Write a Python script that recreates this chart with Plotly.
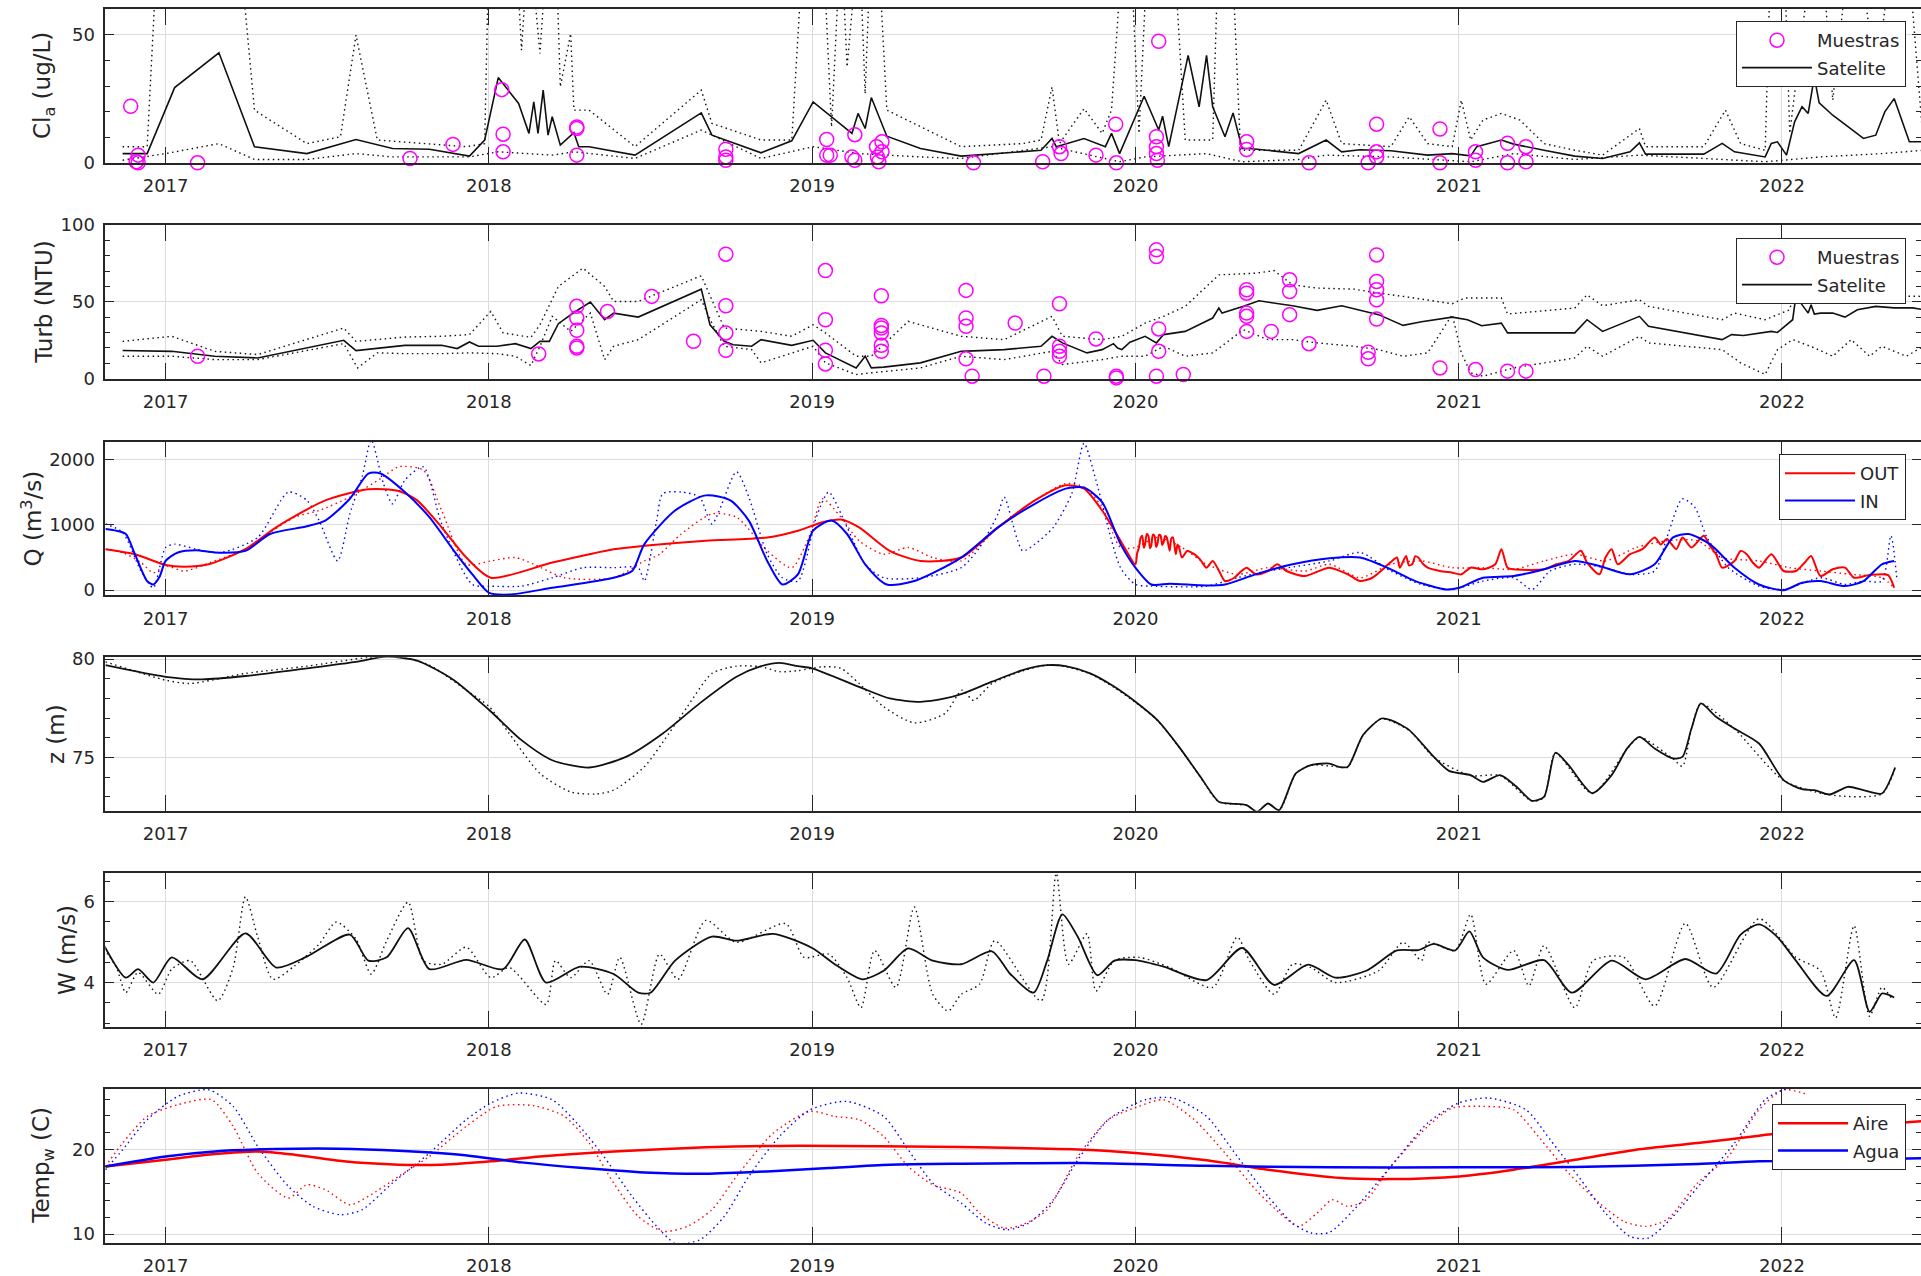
import plotly.graph_objects as go

FIG_W, FIG_H = 1921, 1276
FONT = "DejaVu Sans"
INK = "#262626"
GRID = "#dcdcdc"

YEARS = [2017, 2018, 2019, 2020, 2021, 2022]
YEAR_LABELS = ["2017", "2018", "2019", "2020", "2021", "2022"]
X_RANGE = [2016.8135, 2022.430]

# ---------------- Chlorophyll-a (ug/L) ----------------
CLA_SAT = [(2016.867, 3.6), (2016.943, 3.6), (2017.028, 29.4), (2017.165, 43.0), (2017.275, 6.3),
           (2017.437, 3.6), (2017.589, 9.1), (2017.702, 5.6), (2017.816, 5.3), (2017.940, 2.6),
           (2017.987, 8.9), (2018.029, 33.3), (2018.092, 23.2), (2018.124, 11.5), (2018.139, 23.8),
           (2018.152, 11.5), (2018.168, 28.4), (2018.183, 10.8), (2018.196, 18.0), (2018.221, 6.9),
           (2018.263, 11.8), (2018.278, 6.3), (2018.310, 6.3), (2018.452, 3.0), (2018.657, 19.5),
           (2018.690, 10.8), (2018.842, 3.9), (2018.937, 8.6), (2019.003, 23.8), (2019.123, 11.5),
           (2019.142, 19.3), (2019.164, 13.4), (2019.183, 25.5), (2019.231, 10.4), (2019.335, 5.6),
           (2019.461, 2.6), (2019.708, 4.9), (2019.742, 9.5), (2019.755, 6.3), (2019.841, 9.5),
           (2019.907, 6.3), (2019.926, 11.5), (2019.951, 3.6), (2020.027, 26.0), (2020.072, 12.8),
           (2020.084, 18.2), (2020.103, 6.3), (2020.163, 42.0), (2020.197, 21.9), (2020.220, 42.0),
           (2020.239, 21.9), (2020.277, 10.2), (2020.302, 19.5), (2020.330, 5.6), (2020.353, 5.6),
           (2020.505, 3.6), (2020.590, 8.9), (2020.638, 4.3), (2020.695, 5.1), (2020.790, 4.7),
           (2020.904, 3.0), (2020.980, 3.6), (2021.037, 2.7), (2021.056, 6.3), (2021.132, 8.9),
           (2021.170, 7.3), (2021.264, 4.9), (2021.359, 2.6), (2021.445, 1.7), (2021.530, 4.3),
           (2021.559, 7.8), (2021.578, 3.4), (2021.758, 3.4), (2021.815, 7.6), (2021.853, 4.3),
           (2021.948, 2.3), (2021.967, 7.6), (2021.986, 8.2), (2022.014, 3.0), (2022.039, 16.0),
           (2022.062, 21.9), (2022.081, 19.3), (2022.100, 33.6), (2022.115, 23.4), (2022.157, 18.6),
           (2022.252, 9.5), (2022.290, 10.8), (2022.318, 19.9), (2022.347, 25.1), (2022.394, 8.2),
           (2022.438, 8.2)]

CLA_HI = [(2016.867, 6.3), (2016.943, 6.3), (2016.977, 90), (2017.224, 90), (2017.275, 20.6),
          (2017.437, 7.5), (2017.541, 10.2), (2017.589, 49.9), (2017.655, 8.9), (2017.816, 7.5),
          (2017.930, 6.3), (2017.987, 7.5), (2018.001, 90), (2018.082, 90), (2018.101, 44.0),
          (2018.124, 90), (2018.158, 42.7), (2018.183, 90), (2018.206, 90), (2018.221, 29.7),
          (2018.253, 50.5), (2018.263, 20.6), (2018.310, 20.6), (2018.452, 6.3), (2018.657, 28.4),
          (2018.690, 15.4), (2018.842, 8.9), (2018.937, 8.9), (2018.975, 90), (2019.032, 90),
          (2019.060, 14.0), (2019.089, 90), (2019.108, 37.5), (2019.145, 90), (2019.164, 27.0),
          (2019.183, 90), (2019.202, 90), (2019.231, 20.6), (2019.335, 14.0), (2019.461, 6.3),
          (2019.651, 7.5), (2019.708, 8.9), (2019.742, 29.7), (2019.765, 7.5), (2019.841, 21.2),
          (2019.897, 11.5), (2019.926, 20.6), (2019.964, 90), (2019.983, 90), (2020.011, 11.5),
          (2020.040, 90), (2020.087, 90), (2020.116, 90), (2020.154, 8.9), (2020.239, 8.9),
          (2020.258, 90), (2020.296, 90), (2020.325, 4.9), (2020.505, 4.9), (2020.590, 24.5),
          (2020.638, 7.5), (2020.790, 6.3), (2020.847, 18.0), (2020.904, 7.5), (2020.980, 6.3),
          (2021.008, 24.5), (2021.037, 8.9), (2021.075, 16.7), (2021.132, 19.3), (2021.189, 16.7),
          (2021.264, 7.5), (2021.359, 4.9), (2021.445, 3.0), (2021.559, 13.4), (2021.578, 6.3),
          (2021.758, 6.3), (2021.825, 20.6), (2021.872, 7.5), (2021.948, 4.9), (2021.967, 90),
          (2022.005, 90), (2022.024, 11.5), (2022.100, 90), (2022.119, 90), (2022.157, 24.5),
          (2022.214, 90), (2022.233, 90), (2022.290, 31.0), (2022.347, 90), (2022.385, 90),
          (2022.438, 6.3)]

CLA_LO = [(2016.867, 1.0), (2017.000, 3.6), (2017.165, 7.5), (2017.275, 1.3), (2017.437, 1.3),
          (2017.589, 3.6), (2017.702, 2.3), (2017.940, 2.3), (2018.029, 4.3), (2018.196, 3.0),
          (2018.263, 4.3), (2018.452, 1.7), (2018.657, 12.8), (2018.842, 1.7), (2019.003, 6.3),
          (2019.145, 3.6), (2019.335, 2.3), (2019.461, 1.7), (2019.742, 6.3), (2019.841, 3.6),
          (2019.951, 0.4), (2020.030, 2.3), (2020.220, 3.6), (2020.330, 0.4), (2020.505, 1.3),
          (2020.590, 3.0), (2020.790, 2.3), (2021.037, 0.4), (2021.170, 3.6), (2021.359, 1.3),
          (2021.559, 3.0), (2021.758, 1.7), (2021.948, 0.4), (2022.119, 2.3), (2022.309, 3.6),
          (2022.438, 4.9)]

CLA_OBS = [(2016.892, 22.1), (2016.909, 0.4), (2016.915, 3.0), (2016.915, 0.0), (2017.099, 0.0),
           (2017.756, 1.7), (2017.889, 7.2), (2018.040, 28.6), (2018.044, 11.2), (2018.044, 4.3),
           (2018.272, 14.0), (2018.272, 13.4), (2018.272, 3.0), (2018.733, 5.3), (2018.733, 2.3),
           (2018.733, 1.0), (2019.045, 9.1), (2019.045, 3.0), (2019.056, 3.0), (2019.123, 2.3),
           (2019.132, 11.0), (2019.132, 1.0), (2019.199, 6.3), (2019.202, 2.3), (2019.206, 0.4),
           (2019.216, 8.2), (2019.216, 4.3), (2019.499, 0.0), (2019.713, 0.4), (2019.765, 6.3),
           (2019.770, 3.6), (2019.878, 3.0), (2019.939, 15.1), (2019.941, 0.0), (2020.065, 10.2),
           (2020.065, 6.3), (2020.065, 3.6), (2020.068, 1.0), (2020.072, 47.5), (2020.344, 8.2),
           (2020.344, 5.2), (2020.537, 0.0), (2020.720, 0.0), (2020.746, 15.1), (2020.746, 4.3),
           (2020.746, 2.3), (2020.942, 13.2), (2020.942, 0.0), (2021.052, 1.0), (2021.052, 4.3),
           (2021.151, 7.6), (2021.151, 0.0), (2021.208, 6.3), (2021.208, 0.4)]

# ---------------- Turbidity (NTU) ----------------
TURB_SAT = [(2016.867, 18.2), (2017.019, 17.7), (2017.152, 14.5), (2017.285, 13.4), (2017.551, 24.9),
            (2017.589, 18.2), (2017.740, 21.6), (2017.854, 21.6), (2017.902, 19.5), (2017.940, 23.8),
            (2017.968, 21.0), (2018.025, 21.0), (2018.082, 22.7), (2018.130, 19.5), (2018.158, 24.2),
            (2018.187, 24.2), (2018.215, 35.7), (2018.263, 43.0), (2018.314, 49.8), (2018.358, 38.3),
            (2018.386, 42.6), (2018.462, 40.0), (2018.657, 58.2), (2018.684, 35.0), (2018.728, 24.2),
            (2018.756, 22.0), (2018.813, 21.0), (2018.842, 25.3), (2018.937, 21.6), (2019.003, 24.9),
            (2019.041, 16.7), (2019.136, 6.9), (2019.164, 14.5), (2019.183, 6.9), (2019.221, 7.4),
            (2019.335, 10.2), (2019.461, 17.7), (2019.594, 18.8), (2019.708, 21.0), (2019.742, 27.5),
            (2019.774, 23.2), (2019.850, 16.7), (2019.897, 18.8), (2019.932, 22.7), (2019.945, 19.9),
            (2019.958, 18.8), (2019.983, 23.6), (2020.030, 27.5), (2020.065, 23.2), (2020.087, 28.6),
            (2020.154, 30.7), (2020.239, 39.4), (2020.258, 45.9), (2020.268, 42.6), (2020.334, 47.0),
            (2020.382, 50.6), (2020.486, 47.4), (2020.562, 44.4), (2020.638, 47.4), (2020.752, 41.6),
            (2020.828, 34.6), (2020.885, 37.0), (2020.980, 40.0), (2021.027, 38.3), (2021.071, 34.4),
            (2021.132, 36.1), (2021.151, 29.7), (2021.359, 29.7), (2021.397, 38.3), (2021.445, 30.7),
            (2021.559, 40.5), (2021.587, 34.0), (2021.815, 25.3), (2021.844, 28.6), (2021.881, 28.0),
            (2021.967, 30.7), (2021.986, 30.0), (2022.033, 38.3), (2022.043, 53.5), (2022.081, 42.6),
            (2022.090, 48.0), (2022.100, 42.0), (2022.119, 42.6), (2022.157, 42.6), (2022.195, 40.0),
            (2022.233, 44.8), (2022.290, 47.0), (2022.347, 46.0), (2022.404, 46.0), (2022.438, 44.8)]

TURB_HI = [(2016.867, 24.2), (2017.019, 27.5), (2017.152, 17.7), (2017.285, 15.6), (2017.551, 32.9),
           (2017.589, 24.2), (2017.740, 27.0), (2017.854, 27.5), (2017.940, 28.6), (2018.006, 43.7),
           (2018.044, 29.7), (2018.130, 26.8), (2018.158, 35.0), (2018.215, 60.0), (2018.291, 71.9),
           (2018.358, 60.0), (2018.386, 50.2), (2018.462, 50.2), (2018.657, 66.9), (2018.690, 51.3),
           (2018.728, 32.9), (2018.842, 30.7), (2018.937, 27.5), (2019.003, 35.0), (2019.041, 29.7),
           (2019.136, 14.5), (2019.183, 14.5), (2019.297, 37.2), (2019.461, 27.5), (2019.594, 25.3),
           (2019.742, 40.5), (2019.774, 27.5), (2019.897, 25.3), (2019.958, 27.5), (2020.030, 36.1),
           (2020.087, 40.5), (2020.154, 47.0), (2020.220, 60.0), (2020.258, 67.5), (2020.372, 68.6),
           (2020.429, 70.3), (2020.486, 61.0), (2020.562, 58.9), (2020.676, 58.2), (2020.752, 55.6),
           (2020.828, 53.5), (2020.904, 51.3), (2020.980, 48.7), (2021.018, 52.4), (2021.132, 52.4),
           (2021.151, 42.0), (2021.359, 45.9), (2021.397, 54.5), (2021.445, 47.4), (2021.559, 51.3),
           (2021.587, 47.0), (2021.815, 38.3), (2021.853, 42.6), (2021.948, 38.3), (2022.024, 44.8),
           (2022.043, 62.0), (2022.100, 55.0), (2022.233, 54.0), (2022.438, 53.5)]

TURB_LO = [(2016.867, 14.5), (2017.019, 14.5), (2017.152, 12.3), (2017.285, 12.3), (2017.551, 22.7),
           (2017.594, 6.9), (2017.655, 16.7), (2017.740, 16.2), (2017.854, 16.2), (2017.940, 16.7),
           (2018.025, 16.2), (2018.082, 14.5), (2018.130, 8.4), (2018.158, 21.0), (2018.196, 40.5),
           (2018.253, 30.7), (2018.314, 42.6), (2018.358, 12.3), (2018.386, 21.0), (2018.462, 25.3),
           (2018.657, 51.3), (2018.690, 36.1), (2018.728, 21.0), (2018.813, 18.8), (2018.842, 10.2),
           (2018.937, 16.7), (2019.003, 21.0), (2019.041, 10.2), (2019.136, 2.6), (2019.183, 3.7),
           (2019.335, 6.9), (2019.461, 14.5), (2019.594, 12.3), (2019.742, 17.7), (2019.774, 9.1),
           (2019.897, 12.3), (2019.958, 14.5), (2020.030, 14.5), (2020.087, 21.0), (2020.154, 14.5),
           (2020.239, 16.7), (2020.334, 31.8), (2020.410, 25.3), (2020.486, 25.3), (2020.562, 23.2),
           (2020.676, 21.0), (2020.752, 18.8), (2020.828, 14.5), (2020.904, 16.7), (2020.980, 41.6),
           (2021.008, 16.7), (2021.037, 3.7), (2021.075, 1.5), (2021.170, 6.9), (2021.264, 10.2),
           (2021.359, 13.4), (2021.397, 21.0), (2021.445, 14.5), (2021.559, 27.5), (2021.587, 23.2),
           (2021.815, 18.8), (2021.872, 10.2), (2021.948, 2.6), (2021.986, 18.8), (2022.033, 25.3),
           (2022.100, 20.0), (2022.157, 14.5), (2022.214, 25.3), (2022.271, 14.5), (2022.309, 21.0),
           (2022.385, 14.5), (2022.438, 21.0)]

TURB_OBS = [(2017.099, 14.5), (2018.154, 16.0), (2018.272, 47.0), (2018.272, 39.4), (2018.272, 31.4),
            (2018.272, 21.0), (2018.272, 19.9), (2018.367, 43.7), (2018.504, 53.5), (2018.633, 24.2),
            (2018.733, 81.0), (2018.733, 47.4), (2018.733, 29.7), (2018.733, 18.4), (2019.041, 70.3),
            (2019.041, 38.3), (2019.041, 18.4), (2019.041, 9.5), (2019.214, 53.9), (2019.214, 34.5),
            (2019.214, 32.9), (2019.214, 29.7), (2019.214, 21.6), (2019.214, 17.7), (2019.476, 57.4),
            (2019.476, 39.4), (2019.476, 34.0), (2019.476, 12.8), (2019.495, 1.5), (2019.628, 36.1),
            (2019.717, 1.5), (2019.765, 48.7), (2019.765, 21.0), (2019.765, 17.7), (2019.765, 14.5),
            (2019.878, 25.8), (2019.941, 0.4), (2019.941, 1.5), (2020.065, 83.8), (2020.065, 79.4),
            (2020.072, 32.3), (2020.072, 17.7), (2020.065, 1.5), (2020.148, 2.6), (2020.344, 57.8),
            (2020.344, 55.6), (2020.344, 42.6), (2020.344, 40.5), (2020.344, 30.7), (2020.420, 30.7),
            (2020.477, 64.3), (2020.477, 56.7), (2020.477, 41.6), (2020.537, 22.7), (2020.720, 17.1),
            (2020.720, 12.8), (2020.746, 80.5), (2020.746, 63.2), (2020.746, 57.8), (2020.746, 51.3),
            (2020.746, 38.7), (2020.942, 6.9), (2021.052, 5.8), (2021.151, 4.8), (2021.208, 4.8)]

# ---------------- Discharge Q (m3/s) ----------------
Q_OUT = [(2016.814, 627), (2016.905, 550), (2017.000, 386), (2017.057, 360), (2017.133, 396),
         (2017.247, 627), (2017.342, 961), (2017.494, 1373), (2017.627, 1542), (2017.721, 1517),
         (2017.778, 1373), (2017.854, 961), (2017.930, 499), (2018.006, 190), (2018.196, 422),
         (2018.386, 627), (2018.481, 679), (2018.671, 756), (2018.861, 807), (2018.956, 910),
         (2019.032, 1039), (2019.089, 1080), (2019.145, 961), (2019.240, 602), (2019.335, 447),
         (2019.461, 499), (2019.575, 961), (2019.689, 1373), (2019.784, 1604), (2019.841, 1553),
         (2019.897, 1219), (2019.954, 756), (2020.000, 396), (2020.005, 560), (2020.011, 653),
         (2020.016, 800), (2020.021, 833), (2020.026, 650), (2020.030, 704), (2020.035, 860),
         (2020.040, 833), (2020.045, 640), (2020.049, 679), (2020.054, 850), (2020.059, 833),
         (2020.064, 660), (2020.068, 704), (2020.073, 845), (2020.078, 833), (2020.083, 690),
         (2020.087, 730), (2020.092, 830), (2020.097, 807), (2020.106, 602), (2020.111, 790),
         (2020.116, 807), (2020.125, 550), (2020.130, 700), (2020.135, 653), (2020.144, 499),
         (2020.160, 600), (2020.182, 550), (2020.200, 470), (2020.220, 344), (2020.239, 447),
         (2020.258, 300), (2020.277, 139), (2020.306, 190), (2020.325, 280), (2020.344, 344),
         (2020.372, 242), (2020.410, 293), (2020.439, 396), (2020.467, 293), (2020.524, 216),
         (2020.600, 344), (2020.657, 242), (2020.695, 139), (2020.733, 190), (2020.771, 344),
         (2020.790, 430), (2020.809, 499), (2020.818, 344), (2020.837, 524), (2020.846, 380),
         (2020.856, 396), (2020.866, 520), (2020.875, 499), (2020.890, 400), (2020.904, 344),
         (2020.942, 293), (2020.980, 267), (2021.008, 242), (2021.037, 344), (2021.075, 319),
         (2021.113, 396), (2021.132, 627), (2021.151, 344), (2021.170, 319), (2021.264, 319),
         (2021.302, 396), (2021.340, 447), (2021.378, 602), (2021.397, 422), (2021.435, 242),
         (2021.454, 499), (2021.473, 627), (2021.492, 396), (2021.530, 550), (2021.568, 627),
         (2021.606, 807), (2021.625, 700), (2021.644, 781), (2021.673, 627), (2021.692, 807),
         (2021.720, 653), (2021.758, 833), (2021.777, 679), (2021.796, 550), (2021.815, 344),
         (2021.853, 447), (2021.872, 600), (2021.891, 550), (2021.910, 420), (2021.929, 344),
         (2021.967, 550), (2022.005, 293), (2022.043, 293), (2022.070, 420), (2022.090, 524),
         (2022.119, 216), (2022.157, 319), (2022.195, 344), (2022.223, 190), (2022.271, 231),
         (2022.328, 231), (2022.347, 36)]

Q_IN = [(2016.814, 936), (2016.848, 910), (2016.877, 860), (2016.905, 550), (2016.943, 139),
        (2016.962, 87), (2016.981, 200), (2017.000, 447), (2017.038, 576), (2017.095, 612),
        (2017.152, 576), (2017.247, 602), (2017.323, 859), (2017.437, 977), (2017.494, 1064),
        (2017.570, 1398), (2017.627, 1784), (2017.665, 1784), (2017.740, 1501), (2017.816, 1116),
        (2017.892, 602), (2017.949, 242), (2018.001, -41), (2018.063, -67), (2018.196, 36),
        (2018.386, 190), (2018.443, 293), (2018.481, 704), (2018.576, 1219), (2018.671, 1450),
        (2018.747, 1373), (2018.804, 1064), (2018.861, 447), (2018.908, 87), (2018.956, 242),
        (2019.003, 910), (2019.060, 1064), (2019.108, 859), (2019.164, 396), (2019.231, 87),
        (2019.316, 139), (2019.461, 499), (2019.575, 961), (2019.689, 1321), (2019.784, 1553),
        (2019.841, 1568), (2019.897, 1347), (2019.954, 704), (2020.000, 344), (2020.049, 87),
        (2020.106, 98), (2020.220, 72), (2020.277, 87), (2020.372, 242), (2020.486, 396),
        (2020.600, 488), (2020.695, 499), (2020.790, 319), (2020.866, 139), (2020.961, 10),
        (2021.002, 36), (2021.075, 190), (2021.170, 216), (2021.264, 319), (2021.359, 447),
        (2021.435, 370), (2021.530, 242), (2021.606, 396), (2021.663, 807), (2021.711, 859),
        (2021.777, 704), (2021.853, 344), (2021.929, 87), (2022.005, 0), (2022.062, 113),
        (2022.119, 139), (2022.195, 62), (2022.252, 139), (2022.309, 396), (2022.347, 447)]

Q_OUT_RAW = [(2016.814, 627), (2016.867, 576), (2016.924, 422), (2016.962, 267), (2017.000, 370),
             (2017.057, 293), (2017.152, 447), (2017.247, 627), (2017.323, 884), (2017.399, 1116),
             (2017.475, 1219), (2017.570, 1424), (2017.665, 1707), (2017.721, 1887), (2017.797, 1835),
             (2017.854, 1219), (2017.930, 396), (2018.006, 447), (2018.082, 499), (2018.139, 396),
             (2018.234, 190), (2018.386, 190), (2018.481, 447), (2018.528, 550), (2018.595, 859),
             (2018.690, 1167), (2018.766, 1116), (2018.861, 602), (2018.937, 344), (2018.994, 859),
             (2019.032, 1398), (2019.089, 1116), (2019.145, 756), (2019.221, 550), (2019.297, 653),
             (2019.373, 499), (2019.461, 447), (2019.575, 961), (2019.689, 1373), (2019.784, 1630),
             (2019.841, 1578), (2019.897, 1270), (2019.954, 653), (2020.000, 653), (2020.068, 807),
             (2020.144, 653), (2020.220, 396), (2020.315, 242), (2020.410, 344), (2020.524, 293),
             (2020.600, 396), (2020.695, 190), (2020.790, 396), (2020.885, 447), (2020.980, 344),
             (2021.075, 344), (2021.170, 319), (2021.264, 447), (2021.359, 550), (2021.454, 447),
             (2021.549, 653), (2021.644, 756), (2021.739, 756), (2021.815, 499), (2021.929, 447),
             (2022.024, 344), (2022.119, 293), (2022.214, 242), (2022.309, 190), (2022.347, 36)]

Q_IN_RAW = [(2016.814, 1013), (2016.867, 884), (2016.924, 293), (2016.962, 36), (2017.000, 653),
            (2017.028, 704), (2017.095, 627), (2017.171, 576), (2017.285, 807), (2017.380, 1501),
            (2017.437, 1373), (2017.475, 1064), (2017.532, 447), (2017.570, 1167), (2017.608, 1733),
            (2017.636, 2298), (2017.674, 1630), (2017.702, 1321), (2017.740, 1681), (2017.797, 1887),
            (2017.854, 1013), (2017.949, 87), (2018.006, 62), (2018.101, 62), (2018.196, 190),
            (2018.291, 344), (2018.386, 344), (2018.462, 344), (2018.481, 139), (2018.519, 1064),
            (2018.538, 1476), (2018.595, 1501), (2018.652, 1424), (2018.690, 1013), (2018.766, 1810),
            (2018.804, 1424), (2018.861, 550), (2018.908, 190), (2018.956, 139), (2019.013, 1116),
            (2019.051, 1501), (2019.108, 961), (2019.164, 396), (2019.221, 190), (2019.335, 190),
            (2019.461, 344), (2019.518, 653), (2019.575, 1167), (2019.594, 1424), (2019.651, 602),
            (2019.689, 704), (2019.746, 961), (2019.803, 1476), (2019.841, 2247), (2019.878, 1681),
            (2019.954, 344), (2020.000, 87), (2020.049, 62), (2020.220, 62), (2020.315, 190),
            (2020.410, 293), (2020.600, 447), (2020.695, 576), (2020.790, 293), (2020.885, 87),
            (2020.980, 10), (2021.075, 139), (2021.170, 190), (2021.227, 10), (2021.283, 293),
            (2021.359, 396), (2021.454, 344), (2021.530, 242), (2021.606, 293), (2021.644, 807),
            (2021.692, 1398), (2021.730, 1270), (2021.768, 807), (2021.834, 344), (2021.929, 62),
            (2022.005, 10), (2022.119, 190), (2022.195, 87), (2022.252, 139), (2022.309, 139),
            (2022.337, 833), (2022.356, 139)]

# ---------------- Water level z (m) ----------------
Z_SIM = [(2016.814, 79.69), (2017.000, 79.10), (2017.114, 78.97), (2017.247, 79.14), (2017.437, 79.53),
         (2017.589, 79.86), (2017.684, 80.12), (2017.778, 79.92), (2017.892, 78.93), (2018.001, 77.41),
         (2018.101, 75.88), (2018.196, 74.86), (2018.310, 74.49), (2018.424, 75.03), (2018.538, 76.22),
         (2018.652, 77.75), (2018.766, 79.10), (2018.842, 79.64), (2018.899, 79.81), (2018.956, 79.64),
         (2019.000, 79.53), (2019.145, 78.59), (2019.240, 78.00), (2019.335, 77.83), (2019.411, 78.00),
         (2019.461, 78.22), (2019.556, 78.85), (2019.651, 79.44), (2019.727, 79.69), (2019.784, 79.64),
         (2019.860, 79.27), (2019.935, 78.59), (2020.000, 77.83), (2020.068, 76.90), (2020.135, 75.54),
         (2020.201, 74.02), (2020.258, 72.75), (2020.296, 72.66), (2020.344, 72.58), (2020.376, 72.24),
         (2020.410, 72.66), (2020.444, 72.32), (2020.496, 74.19), (2020.543, 74.61), (2020.600, 74.69),
         (2020.628, 74.53), (2020.657, 74.53), (2020.704, 76.14), (2020.761, 76.98), (2020.790, 76.90),
         (2020.847, 76.39), (2020.923, 75.03), (2020.970, 74.32), (2021.037, 74.10), (2021.075, 73.76),
         (2021.128, 74.10), (2021.179, 73.51), (2021.227, 72.80), (2021.264, 73.00), (2021.299, 75.24),
         (2021.340, 74.61), (2021.413, 73.19), (2021.473, 74.10), (2021.521, 75.46), (2021.559, 76.05),
         (2021.606, 75.46), (2021.663, 74.95), (2021.692, 75.03), (2021.720, 76.47), (2021.749, 77.75),
         (2021.796, 77.07), (2021.853, 76.47), (2021.929, 75.71), (2022.005, 73.85), (2022.062, 73.39),
         (2022.100, 73.34), (2022.147, 73.12), (2022.204, 73.51), (2022.252, 73.34), (2022.309, 73.17),
         (2022.350, 74.49)]

Z_OBS = [(2016.814, 79.86), (2017.000, 78.93), (2017.076, 78.76), (2017.247, 79.27), (2017.437, 79.64),
         (2017.627, 80.08), (2017.721, 80.12), (2017.816, 79.69), (2017.930, 78.42), (2018.001, 77.58),
         (2018.063, 76.22), (2018.158, 74.19), (2018.253, 73.25), (2018.329, 73.14), (2018.386, 73.34),
         (2018.481, 74.53), (2018.557, 76.22), (2018.614, 77.58), (2018.690, 79.27), (2018.766, 79.64),
         (2018.842, 79.61), (2018.899, 79.36), (2018.956, 79.41), (2019.032, 79.61), (2019.089, 79.53),
         (2019.145, 78.76), (2019.221, 77.58), (2019.316, 76.76), (2019.411, 77.24), (2019.464, 78.42),
         (2019.499, 77.90), (2019.556, 78.75), (2019.651, 79.40), (2019.727, 79.70), (2019.784, 79.62),
         (2019.860, 79.25), (2019.935, 78.55), (2020.000, 77.80), (2020.068, 76.88), (2020.135, 75.52),
         (2020.201, 74.00), (2020.258, 72.74), (2020.344, 72.56), (2020.376, 72.24), (2020.444, 72.30),
         (2020.496, 74.17), (2020.543, 74.60), (2020.628, 74.52), (2020.657, 74.50), (2020.704, 76.12),
         (2020.761, 76.96), (2020.847, 76.37), (2020.923, 75.01), (2021.037, 74.08), (2021.128, 74.08),
         (2021.227, 72.78), (2021.264, 72.98), (2021.299, 75.22), (2021.413, 73.17), (2021.521, 75.44),
         (2021.559, 76.03), (2021.663, 74.93), (2021.692, 74.55), (2021.720, 76.45), (2021.749, 77.73),
         (2021.853, 76.45), (2022.005, 73.83), (2022.147, 73.10), (2022.309, 73.15), (2022.350, 74.47)]

# ---------------- Wind speed W (m/s) ----------------
W_SIM = [(2016.810, 4.91), (2016.877, 4.12), (2016.915, 4.33), (2016.962, 4.00), (2017.019, 4.62),
         (2017.114, 4.08), (2017.247, 5.21), (2017.342, 4.37), (2017.437, 4.64), (2017.570, 5.18),
         (2017.627, 4.54), (2017.684, 4.62), (2017.750, 5.34), (2017.816, 4.33), (2017.930, 4.56),
         (2018.044, 4.33), (2018.111, 5.06), (2018.177, 4.00), (2018.282, 4.39), (2018.386, 4.21),
         (2018.462, 3.75), (2018.500, 3.75), (2018.576, 4.54), (2018.690, 5.13), (2018.766, 5.03),
         (2018.880, 5.20), (2019.000, 4.85), (2019.070, 4.45), (2019.155, 4.08), (2019.221, 4.29),
         (2019.297, 4.84), (2019.373, 4.54), (2019.461, 4.45), (2019.556, 4.77), (2019.613, 4.21),
         (2019.685, 3.75), (2019.727, 4.54), (2019.774, 5.68), (2019.822, 5.12), (2019.882, 4.18),
         (2019.935, 4.54), (2020.000, 4.55), (2020.087, 4.39), (2020.220, 4.06), (2020.330, 4.85),
         (2020.429, 3.94), (2020.534, 4.44), (2020.619, 4.12), (2020.714, 4.29), (2020.809, 4.79),
         (2020.875, 4.80), (2020.923, 4.95), (2020.989, 4.79), (2021.033, 5.26), (2021.075, 4.62),
         (2021.151, 4.31), (2021.264, 4.55), (2021.350, 3.75), (2021.473, 4.54), (2021.578, 4.08),
         (2021.701, 4.58), (2021.796, 4.22), (2021.872, 5.18), (2021.929, 5.43), (2021.986, 5.12),
         (2022.043, 4.54), (2022.138, 3.67), (2022.223, 4.55), (2022.271, 3.28), (2022.309, 3.73),
         (2022.328, 3.70), (2022.347, 3.63)]

W_OBS = [(2016.810, 4.83), (2016.848, 4.37), (2016.877, 3.75), (2016.915, 4.25), (2016.977, 3.71),
         (2017.019, 4.33), (2017.076, 4.54), (2017.161, 3.55), (2017.209, 4.37), (2017.247, 6.11),
         (2017.285, 5.12), (2017.332, 4.08), (2017.399, 4.41), (2017.475, 4.95), (2017.528, 5.49),
         (2017.589, 5.07), (2017.636, 4.21), (2017.684, 5.03), (2017.750, 5.98), (2017.797, 4.54),
         (2017.854, 4.45), (2017.930, 4.87), (2018.006, 4.12), (2018.063, 4.37), (2018.177, 3.46),
         (2018.206, 4.54), (2018.253, 4.12), (2018.310, 4.54), (2018.367, 3.71), (2018.405, 4.62),
         (2018.471, 2.97), (2018.528, 4.70), (2018.585, 4.08), (2018.671, 5.53), (2018.766, 4.99),
         (2018.918, 5.45), (2018.975, 4.62), (2019.051, 4.70), (2019.108, 4.12), (2019.151, 3.38),
         (2019.193, 4.79), (2019.259, 3.88), (2019.316, 5.86), (2019.373, 3.71), (2019.421, 3.30),
         (2019.461, 3.71), (2019.518, 3.96), (2019.565, 5.03), (2019.708, 3.55), (2019.755, 6.69),
         (2019.793, 4.45), (2019.850, 5.20), (2019.878, 3.79), (2019.935, 4.54), (2020.011, 4.62),
         (2020.106, 4.37), (2020.239, 3.88), (2020.315, 5.12), (2020.353, 4.54), (2020.429, 3.71),
         (2020.486, 4.45), (2020.543, 4.37), (2020.619, 4.00), (2020.752, 4.29), (2020.828, 4.99),
         (2020.885, 4.54), (2020.904, 4.99), (2020.989, 4.79), (2021.037, 5.68), (2021.084, 3.96),
         (2021.170, 4.79), (2021.217, 3.92), (2021.264, 4.91), (2021.359, 3.38), (2021.416, 4.54),
         (2021.511, 4.62), (2021.606, 3.42), (2021.701, 5.46), (2021.787, 3.88), (2021.929, 5.57),
         (2022.043, 4.62), (2022.119, 4.29), (2022.166, 3.13), (2022.223, 5.40), (2022.271, 3.17),
         (2022.309, 3.88), (2022.337, 3.63)]

# ---------------- Temperature (C) ----------------
T_AIRE = [(2016.814, 18.02), (2017.000, 18.81), (2017.152, 19.49), (2017.285, 19.80), (2017.399, 19.41),
          (2017.551, 18.62), (2017.721, 18.22), (2017.854, 18.22), (2018.006, 18.62), (2018.158, 19.21),
          (2018.386, 19.80), (2018.671, 20.28), (2018.956, 20.47), (2019.461, 20.32), (2019.841, 20.00),
          (2020.000, 19.60), (2020.220, 18.74), (2020.410, 17.63), (2020.638, 16.64), (2020.790, 16.52),
          (2021.002, 16.84), (2021.170, 17.63), (2021.359, 18.81), (2021.549, 20.00), (2021.739, 20.79),
          (2021.929, 21.66), (2022.100, 22.40), (2022.438, 23.40)]

T_AGUA = [(2016.814, 18.02), (2017.000, 19.21), (2017.152, 19.80), (2017.342, 20.08), (2017.532, 20.12),
          (2017.721, 19.88), (2017.911, 19.41), (2018.101, 18.50), (2018.291, 17.83), (2018.481, 17.31),
          (2018.671, 17.15), (2018.861, 17.43), (2019.051, 17.83), (2019.240, 18.22), (2019.461, 18.34),
          (2019.841, 18.42), (2020.220, 18.10), (2020.600, 17.91), (2021.002, 17.91), (2021.359, 17.94),
          (2021.739, 18.30), (2021.929, 18.62), (2022.438, 19.00)]

T_AIRE_RAW = [(2016.814, 18.02), (2016.867, 20.79), (2016.943, 23.95), (2017.038, 25.34), (2017.142, 25.93),
              (2017.209, 22.77), (2017.285, 17.23), (2017.380, 14.27), (2017.437, 15.85), (2017.494, 15.26),
              (2017.570, 13.48), (2017.627, 14.47), (2017.721, 16.84), (2017.816, 19.21), (2017.930, 22.77),
              (2018.025, 25.14), (2018.139, 25.22), (2018.234, 23.95), (2018.310, 20.79), (2018.386, 16.05),
              (2018.462, 12.09), (2018.538, 10.32), (2018.614, 10.91), (2018.690, 12.89), (2018.766, 16.84),
              (2018.880, 21.98), (2018.994, 24.55), (2019.070, 23.95), (2019.145, 23.56), (2019.221, 21.58),
              (2019.297, 18.02), (2019.373, 15.85), (2019.461, 14.86), (2019.518, 12.49), (2019.594, 10.71),
              (2019.651, 11.11), (2019.727, 12.89), (2019.822, 19.21), (2019.916, 23.56), (2020.011, 25.14),
              (2020.087, 25.93), (2020.182, 23.56), (2020.277, 19.60), (2020.372, 15.26), (2020.458, 12.09),
              (2020.505, 10.91), (2020.562, 12.49), (2020.609, 14.07), (2020.657, 13.28), (2020.714, 14.07),
              (2020.790, 18.02), (2020.904, 22.77), (2020.980, 24.94), (2021.075, 25.14), (2021.170, 24.74),
              (2021.246, 21.58), (2021.340, 17.23), (2021.435, 13.68), (2021.511, 11.50), (2021.578, 10.91),
              (2021.644, 11.70), (2021.739, 16.05), (2021.834, 19.21), (2021.929, 24.74), (2022.005, 27.11),
              (2022.081, 26.52)]

T_AGUA_RAW = [(2016.814, 17.63), (2016.867, 20.00), (2016.943, 23.56), (2017.038, 26.32), (2017.133, 27.11),
              (2017.209, 25.14), (2017.285, 20.40), (2017.380, 15.65), (2017.456, 13.28), (2017.541, 12.29),
              (2017.608, 12.89), (2017.702, 16.05), (2017.816, 19.60), (2017.930, 23.56), (2018.006, 25.53),
              (2018.092, 26.72), (2018.196, 25.93), (2018.272, 23.16), (2018.348, 19.60), (2018.443, 14.47),
              (2018.519, 10.91), (2018.576, 8.93), (2018.652, 9.30), (2018.728, 12.09), (2018.804, 16.84),
              (2018.899, 21.58), (2018.994, 24.74), (2019.108, 25.73), (2019.221, 23.95), (2019.297, 20.00),
              (2019.373, 16.05), (2019.461, 13.68), (2019.537, 11.30), (2019.603, 10.51), (2019.670, 11.30),
              (2019.746, 14.07), (2019.822, 18.81), (2019.916, 23.56), (2020.030, 25.93), (2020.116, 26.13),
              (2020.220, 23.95), (2020.315, 19.21), (2020.410, 14.47), (2020.486, 11.30), (2020.543, 10.12),
              (2020.600, 10.20), (2020.676, 12.89), (2020.790, 18.02), (2020.904, 23.16), (2020.999, 25.53),
              (2021.094, 26.13), (2021.208, 24.74), (2021.283, 21.19), (2021.378, 16.44), (2021.454, 12.49),
              (2021.530, 9.72), (2021.587, 9.53), (2021.663, 12.09), (2021.758, 16.44), (2021.853, 20.79),
              (2021.948, 25.93), (2022.005, 27.11), (2022.100, 27.50)]

# ---------------- panel setup ----------------
Y_TITLES = ["Cl<sub>a</sub> (ug/L)", "Turb (NTU)", "Q (m<sup>3</sup>/s)",
            "z (m)", "W (m/s)", "Temp<sub>w</sub> (C)"]
Y_RANGES = [[0, 60], [0, 100], [-77, 2271], [72.29, 80.09], [2.91, 6.69], [9.0, 27.2]]
Y_TICK0 = [0, 0, 0, 75, 4, 10]
Y_DTICK = [50, 50, 1000, 5, 2, 10]
Y_MINOR = [10, 10, None, 1, 0.5, 2]
SMOOTH = [False, False, True, True, True, True]

PLOT_LEFT = 105.3
PANEL_TOPS = [9.3, 225.0, 441.7, 657.3, 873.3, 1089.0]
PANEL_H = 153.5
TITLE_X = [44, 44, 32, 56, 67, 43]
LEGEND_TOPS = [21, 238, 454, 1104]

MAGENTA = "#ff00ff"
RED = "#ff0000"
BLUE = "#0000ff"
BLACK = "#111111"
DOT = "1.5px,3.5px"

fig = go.Figure()


def ax(n):
    return ("x" if n == 1 else f"x{n}"), ("y" if n == 1 else f"y{n}")


def add_line(pairs, n, color, width=1.5, dash=None, name=None, legend=None, rank=None):
    xa, ya = ax(n)
    shape = "spline" if SMOOTH[n - 1] else "linear"
    fig.add_trace(go.Scatter(
        x=[p[0] for p in pairs], y=[p[1] for p in pairs], mode="lines",
        xaxis=xa, yaxis=ya,
        line=dict(color=color, width=width, dash=dash, shape=shape, smoothing=0.7),
        name=name, showlegend=name is not None, legend=legend, legendrank=rank,
        legendgroup=(f"{legend}-{name}" if name else None), hoverinfo="skip"))


def add_samples(pairs, n, legend):
    xa, ya = ax(n)
    fig.add_trace(go.Scatter(
        x=[p[0] for p in pairs], y=[p[1] for p in pairs], mode="markers",
        xaxis=xa, yaxis=ya, cliponaxis=False,
        marker=dict(symbol="circle-open", size=14, color=MAGENTA, line=dict(width=1.5)),
        name="Muestras", legend=legend, legendrank=1, legendgroup=f"{legend}-obs",
        hoverinfo="skip"))


# Panel 1: chlorophyll
add_line(CLA_HI, 1, BLACK, 1.4, DOT)
add_line(CLA_LO, 1, BLACK, 1.4, DOT)
add_line(CLA_SAT, 1, BLACK, 1.6, None, "Satelite", "legend", 2)
add_samples(CLA_OBS, 1, "legend")

# Panel 2: turbidity
add_line(TURB_HI, 2, BLACK, 1.4, DOT)
add_line(TURB_LO, 2, BLACK, 1.4, DOT)
add_line(TURB_SAT, 2, BLACK, 1.6, None, "Satelite", "legend2", 2)
add_samples(TURB_OBS, 2, "legend2")

# Panel 3: discharge
add_line(Q_OUT_RAW, 3, RED, 1.4, DOT)
add_line(Q_IN_RAW, 3, BLUE, 1.4, DOT)
add_line(Q_OUT, 3, RED, 2.0, None, "OUT", "legend3", 1)
add_line(Q_IN, 3, BLUE, 2.0, None, "IN", "legend3", 2)

# Panel 4: water level
add_line(Z_OBS, 4, BLACK, 1.4, DOT)
add_line(Z_SIM, 4, BLACK, 1.8)

# Panel 5: wind
add_line(W_OBS, 5, BLACK, 1.4, DOT)
add_line(W_SIM, 5, BLACK, 1.8)

# Panel 6: temperature
add_line(T_AIRE_RAW, 6, RED, 1.4, DOT)
add_line(T_AGUA_RAW, 6, BLUE, 1.4, DOT)
add_line(T_AIRE, 6, RED, 2.5, None, "Aire", "legend4", 1)
add_line(T_AGUA, 6, BLUE, 2.5, None, "Agua", "legend4", 2)

layout = dict(
    width=FIG_W, height=FIG_H,
    margin=dict(l=0, r=0, t=0, b=0, pad=0, autoexpand=False),
    paper_bgcolor="white", plot_bgcolor="white",
    font=dict(family=FONT, color=INK, size=18),
    annotations=[],
)

for i in range(6):
    n = i + 1
    top = PANEL_TOPS[i]
    y0 = 1 - (top + PANEL_H) / FIG_H
    y1 = 1 - top / FIG_H
    xkey = "xaxis" if n == 1 else f"xaxis{n}"
    ykey = "yaxis" if n == 1 else f"yaxis{n}"
    layout[xkey] = dict(
        domain=[PLOT_LEFT / FIG_W, 1.0], range=X_RANGE, anchor=ax(n)[1],
        tickmode="array", tickvals=YEARS, ticktext=YEAR_LABELS,
        ticks="inside", ticklen=16, tickwidth=1.2, tickcolor=INK,
        showline=True, linecolor=INK, linewidth=1.5, mirror="ticks",
        showgrid=True, gridcolor=GRID, gridwidth=1, zeroline=False, automargin=False,
        tickfont=dict(family=FONT, size=18, color=INK), ticklabelstandoff=6,
    )
    yax = dict(
        domain=[y0, y1], range=Y_RANGES[i], anchor=ax(n)[0],
        tickmode="linear", tick0=Y_TICK0[i], dtick=Y_DTICK[i],
        ticks="inside", ticklen=9, tickwidth=1.2, tickcolor=INK,
        showline=True, linecolor=INK, linewidth=1.5, mirror="ticks",
        showgrid=True, gridcolor=GRID, gridwidth=1, zeroline=False, automargin=False,
        tickfont=dict(family=FONT, size=18, color=INK), ticklabelstandoff=5,
    )
    if Y_MINOR[i] is not None:
        yax["minor"] = dict(tickmode="linear", tick0=0, dtick=Y_MINOR[i],
                            ticks="inside", ticklen=5, tickcolor=INK, showgrid=False)
    layout[ykey] = yax
    layout["annotations"].append(dict(
        text=Y_TITLES[i], textangle=-90, xref="paper", yref="paper",
        x=TITLE_X[i] / FIG_W, y=1 - (top + PANEL_H / 2) / FIG_H,
        xanchor="center", yanchor="middle", showarrow=False,
        font=dict(family=FONT, size=23, color=INK)))

legend_style = dict(xanchor="right", yanchor="top", bgcolor="white",
                    bordercolor=INK, borderwidth=1, itemwidth=70,
                    font=dict(family=FONT, size=18, color=INK), tracegroupgap=1)
for key, top in zip(["legend", "legend2", "legend3", "legend4"], LEGEND_TOPS):
    layout[key] = dict(x=1906 / FIG_W, y=1 - top / FIG_H, **legend_style)

fig.update_layout(**layout)
fig.write_html("out.html")
